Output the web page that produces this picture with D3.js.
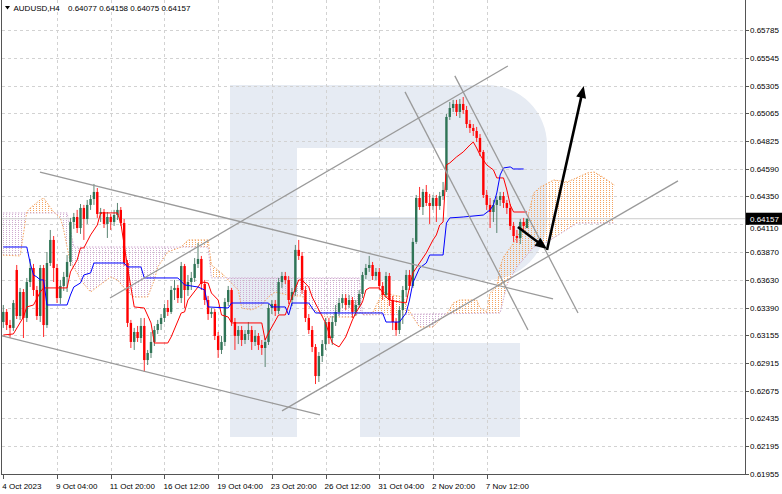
<!DOCTYPE html>
<html>
<head>
<meta charset="utf-8">
<script src="https://cdn.jsdelivr.net/npm/d3@7/dist/d3.min.js"></script>
<style>
html,body{margin:0;padding:0;background:#fff;}
svg{display:block;}
text{font-family:"Liberation Sans",Arial,sans-serif;font-size:8px;fill:#000;}
</style>
</head>
<body>
<svg id="chart" width="782" height="494"></svg>
<script>
// ---------------- data ----------------
const symbolLabel = "AUDUSD,H4";
const quoteLabels = ["0.64077", "0.64158", "0.64075", "0.64157"];
const currentPrice = 0.64157;
const xTickLabels = ["4 Oct 2023","9 Oct 04:00","11 Oct 20:00","16 Oct 12:00","19 Oct 04:00","23 Oct 20:00","26 Oct 12:00","31 Oct 04:00","2 Nov 20:00","7 Nov 12:00"];
const xTickBars = [0,16,32,48,64,80,96,112,128,144];
const yTickLabels = ["0.61955","0.62195","0.62435","0.62675","0.62915","0.63155","0.63390","0.63630","0.63870","0.64110","0.64350","0.64590","0.64825","0.65065","0.65305","0.65545","0.65785"];

const open = [
0.63266,0.63353,0.63240,0.63215,0.63715,0.63318,0.63525,0.63301,0.63611,0.63732,
0.63542,0.63318,0.63732,0.63240,0.63775,0.63974,0.63732,0.63473,0.63577,0.63655,
0.63784,0.64129,0.64172,0.64077,0.64250,0.64155,0.64276,0.64327,0.64388,0.64198,
0.64215,0.64112,0.64172,0.64129,0.64189,0.64233,0.64120,0.63775,0.63258,0.63094,
0.63180,0.63128,0.63232,0.62938,0.62999,0.63094,0.63197,0.63249,0.63301,0.63387,
0.63353,0.63542,0.63560,0.63473,0.63749,0.63542,0.63611,0.63646,0.63767,0.63810,
0.63594,0.63456,0.63335,0.63353,0.63146,0.63025,0.63094,0.63439,0.63542,0.63266,
0.63146,0.63197,0.63111,0.63163,0.63197,0.63094,0.63146,0.63068,0.63042,0.63094,
0.63387,0.63422,0.63361,0.63611,0.63663,0.63629,0.63456,0.63525,0.63888,0.63836,
0.63542,0.63301,0.63197,0.63051,0.62800,0.62973,0.63076,0.63266,0.63128,0.63266,
0.63353,0.63430,0.63473,0.63413,0.63456,0.63353,0.63413,0.63508,0.63672,0.63732,
0.63758,0.63663,0.63698,0.63577,0.63499,0.63663,0.63456,0.63266,0.63197,0.63370,
0.63542,0.63672,0.63577,0.63957,0.64336,0.64258,0.64388,0.64293,0.64267,0.64336,
0.64267,0.64353,0.64405,0.65035,0.65112,0.65147,0.65078,0.65147,0.65095,0.64974,
0.64940,0.64914,0.64854,0.64733,0.64362,0.64276,0.64215,0.64276,0.64319,0.64353,
0.64293,0.64250,0.64095,0.64008,0.63991,0.64129,0.64077];
const high = [
0.63413,0.63378,0.63284,0.63456,0.63758,0.63560,0.63551,0.63646,0.63810,0.63767,
0.63577,0.63758,0.63758,0.63870,0.64060,0.64008,0.63767,0.63629,0.63698,0.63844,
0.64164,0.64207,0.64233,0.64284,0.64276,0.64319,0.64362,0.64457,0.64422,0.64250,
0.64241,0.64215,0.64198,0.64233,0.64293,0.64258,0.64155,0.63801,0.63284,0.63215,
0.63232,0.63301,0.63301,0.63025,0.63180,0.63232,0.63284,0.63335,0.63422,0.63456,
0.63577,0.63629,0.63586,0.63784,0.63767,0.63672,0.63698,0.63818,0.63948,0.63836,
0.63629,0.63491,0.63387,0.63378,0.63180,0.63146,0.63473,0.63577,0.63560,0.63301,
0.63232,0.63232,0.63197,0.63266,0.63232,0.63197,0.63171,0.63111,0.63128,0.63422,
0.63456,0.63456,0.63646,0.63698,0.63698,0.63663,0.63560,0.63931,0.63974,0.63870,
0.63577,0.63335,0.63232,0.63076,0.63007,0.63111,0.63301,0.63301,0.63318,0.63413,
0.63473,0.63508,0.63508,0.63499,0.63482,0.63456,0.63542,0.63698,0.63767,0.63836,
0.63784,0.63732,0.63732,0.63611,0.63698,0.63689,0.63491,0.63301,0.63404,0.63577,
0.63715,0.63715,0.63991,0.64362,0.64431,0.64414,0.64448,0.64371,0.64362,0.64362,
0.64388,0.64474,0.65061,0.65164,0.65182,0.65182,0.65190,0.65207,0.65130,0.65009,
0.64974,0.64949,0.64888,0.64750,0.64405,0.64336,0.64319,0.64353,0.64388,0.64388,
0.64319,0.64284,0.64129,0.64060,0.64155,0.64164,0.64158];
const low = [
0.63215,0.63197,0.63128,0.63189,0.63292,0.63284,0.63128,0.63266,0.63568,0.63491,
0.63284,0.63266,0.63137,0.63215,0.63749,0.63611,0.63430,0.63422,0.63534,0.63525,
0.63749,0.64069,0.64034,0.64026,0.63974,0.64112,0.64233,0.64276,0.64164,0.64129,
0.64077,0.63991,0.64060,0.64095,0.64146,0.64095,0.63749,0.63223,0.63042,0.63025,
0.63094,0.63085,0.62835,0.62895,0.62956,0.63059,0.63163,0.63197,0.63266,0.63318,
0.63335,0.63456,0.63430,0.63430,0.63387,0.63491,0.63542,0.63611,0.63732,0.63542,
0.63413,0.63284,0.63301,0.63111,0.62956,0.62990,0.63059,0.63404,0.63232,0.63025,
0.63076,0.63059,0.63076,0.63111,0.63025,0.63059,0.63025,0.62982,0.62878,0.63068,
0.63335,0.63318,0.63335,0.63560,0.63594,0.63422,0.63404,0.63491,0.63801,0.63508,
0.63266,0.63163,0.63007,0.62731,0.62749,0.62921,0.63025,0.63076,0.63068,0.63232,
0.63318,0.63387,0.63370,0.63387,0.63301,0.63318,0.63387,0.63473,0.63637,0.63698,
0.63629,0.63629,0.63542,0.63456,0.63473,0.63404,0.63197,0.63146,0.63163,0.63249,
0.63482,0.63542,0.63560,0.63939,0.64233,0.64189,0.64267,0.64112,0.64233,0.64129,
0.64233,0.64319,0.64388,0.65009,0.65078,0.65043,0.65026,0.65061,0.64940,0.64897,
0.64871,0.64819,0.64698,0.64336,0.64233,0.64077,0.64129,0.64034,0.64267,0.64250,
0.64198,0.64060,0.63957,0.63948,0.63939,0.64060,0.64075];
const close = [
0.63353,0.63240,0.63215,0.63430,0.63318,0.63525,0.63301,0.63611,0.63732,0.63542,
0.63318,0.63732,0.63240,0.63775,0.63974,0.63732,0.63473,0.63577,0.63655,0.63784,
0.64129,0.64172,0.64077,0.64250,0.64155,0.64276,0.64327,0.64388,0.64198,0.64215,
0.64112,0.64172,0.64129,0.64189,0.64233,0.64120,0.63775,0.63258,0.63094,0.63180,
0.63128,0.63232,0.62938,0.62999,0.63094,0.63197,0.63249,0.63301,0.63387,0.63353,
0.63542,0.63560,0.63473,0.63749,0.63542,0.63611,0.63646,0.63767,0.63810,0.63594,
0.63456,0.63335,0.63353,0.63146,0.63025,0.63094,0.63439,0.63542,0.63266,0.63146,
0.63197,0.63111,0.63163,0.63197,0.63094,0.63146,0.63068,0.63042,0.63094,0.63387,
0.63422,0.63361,0.63611,0.63663,0.63629,0.63456,0.63525,0.63888,0.63836,0.63542,
0.63301,0.63197,0.63051,0.62800,0.62973,0.63076,0.63266,0.63128,0.63266,0.63353,
0.63430,0.63473,0.63413,0.63456,0.63353,0.63413,0.63508,0.63672,0.63732,0.63758,
0.63663,0.63698,0.63577,0.63499,0.63663,0.63456,0.63266,0.63197,0.63370,0.63542,
0.63672,0.63577,0.63957,0.64336,0.64258,0.64388,0.64293,0.64267,0.64336,0.64267,
0.64353,0.64405,0.65035,0.65112,0.65147,0.65078,0.65147,0.65095,0.64974,0.64940,
0.64914,0.64854,0.64733,0.64362,0.64276,0.64215,0.64276,0.64319,0.64353,0.64293,
0.64250,0.64095,0.64008,0.63991,0.64129,0.64095,0.64157];

// Ichimoku lines: vertices [bar index, price]
const tenkan = [[0,0.63154],[3,0.63163],[6,0.63309],[7,0.63396],[9,0.63413],[11,0.63525],[12,0.63560],[19,0.63560],[20,0.63698],[22,0.63801],[23,0.63905],[24,0.63905],[26,0.64017],[28,0.64103],[29,0.64207],[34,0.64207],[35,0.64120],[37,0.63741],[39,0.63396],[42,0.63387],[44,0.63258],[45,0.63085],[49,0.63085],[50,0.63137],[53,0.63344],[54,0.63353],[55,0.63456],[58,0.63568],[59,0.63611],[61,0.63603],[62,0.63516],[64,0.63456],[65,0.63327],[67,0.63309],[68,0.63258],[77,0.63258],[78,0.63111],[79,0.63171],[82,0.63327],[84,0.63327],[86,0.63482],[88,0.63629],[89,0.63629],[91,0.63568],[92,0.63482],[94,0.63370],[96,0.63258],[98,0.63085],[100,0.63051],[102,0.63137],[104,0.63284],[105,0.63344],[107,0.63439],[108,0.63542],[109,0.63560],[112,0.63560],[114,0.63482],[115,0.63456],[118,0.63439],[120,0.63430],[121,0.63568],[122,0.63689],[124,0.63775],[126,0.63862],[128,0.63974],[129,0.64017],[130,0.64103],[131,0.64129],[132,0.64621],[133,0.64638],[135,0.64690],[137,0.64733],[139,0.64793],[140,0.64819],[141,0.64767],[142,0.64707],[144,0.64621],[146,0.64578],[147,0.64509],[149,0.64509],[150,0.64405],[151,0.64276],[152,0.64215],[156,0.64215]];
const kijun = [[0,0.63913],[7,0.63913],[8,0.63775],[9,0.63672],[10,0.63655],[11,0.63629],[12,0.63629],[13,0.63413],[19,0.63413],[20,0.63499],[21,0.63568],[23,0.63603],[24,0.63672],[26,0.63689],[27,0.63775],[36,0.63775],[37,0.63741],[41,0.63741],[42,0.63646],[52,0.63646],[54,0.63586],[58,0.63568],[60,0.63542],[61,0.63396],[67,0.63387],[68,0.63430],[79,0.63430],[80,0.63396],[84,0.63396],[85,0.63327],[86,0.63430],[91,0.63430],[93,0.63344],[113,0.63344],[114,0.63266],[118,0.63266],[120,0.63344],[121,0.63456],[122,0.63603],[124,0.63732],[126,0.63775],[127,0.63844],[131,0.63844],[132,0.64120],[133,0.64164],[137,0.64172],[143,0.64189],[145,0.64233],[146,0.64276],[147,0.64379],[148,0.64535],[149,0.64595],[151,0.64604],[152,0.64586],[155,0.64586]];
const senkouA = [[-1,0.63844],[5,0.63836],[7,0.64215],[8,0.64250],[11,0.64319],[12,0.64336],[15,0.64215],[17,0.64164],[18,0.64060],[19,0.63913],[20,0.63775],[22,0.63689],[23,0.63629],[26,0.63525],[28,0.63568],[32,0.63655],[34,0.63629],[37,0.63525],[39,0.63482],[43,0.63482],[45,0.63629],[46,0.63741],[49,0.63870],[53,0.63913],[55,0.63974],[61,0.63974],[62,0.63758],[65,0.63689],[67,0.63629],[70,0.63542],[71,0.63387],[74,0.63370],[77,0.63413],[79,0.63482],[81,0.63525],[86,0.63491],[89,0.63491],[91,0.63396],[96,0.63309],[104,0.63309],[106,0.63344],[110,0.63344],[113,0.63525],[116,0.63499],[119,0.63482],[120,0.63413],[122,0.63309],[124,0.63223],[128,0.63223],[130,0.63284],[132,0.63327],[134,0.63430],[136,0.63456],[141,0.63456],[142,0.63387],[144,0.63353],[145,0.63516],[147,0.63568],[148,0.63741],[149,0.63827],[152,0.63948],[156,0.64146],[158,0.64379],[160,0.64431],[164,0.64491],[168,0.64474],[174,0.64552],[176,0.64560],[179,0.64509],[182,0.64448]];
const senkouB = [[-1,0.64207],[19,0.64207],[21,0.63913],[61,0.63913],[62,0.63646],[106,0.63646],[107,0.63327],[148,0.63344],[150,0.63586],[153,0.63741],[158,0.63913],[162,0.63957],[171,0.64120],[182,0.64120]];

// drawn trend lines and forecast arrows: [bar index, price]
const trendLines = [
  [[10.93,0.64560],[163.75,0.63465]],
  [[-0.39,0.63146],[94.34,0.62464]],
  [[31.78,0.63473],[150.3,0.65475]],
  [[83.02,0.62499],[200.98,0.64483]],
  [[119.66,0.65251],[156.3,0.63197]],
  [[134.5,0.65389],[171.2,0.63344]]
];
const arrows = [
  [[153.3,0.64086],[161.96,0.63896]],
  [[161.96,0.63888],[172.9,0.65302]]
];

// ---------------- drawing ----------------
const svg = d3.select("#chart");
const L = 2, R = 745, T = 0, B = 474;
const x = d3.scaleLinear().domain([0, 156]).range([3.3, 527.0]);
const y = d3.scaleLinear().domain([0.61955, 0.65785]).range([474, 30]);

svg.append("rect").attr("width",782).attr("height",494).attr("fill","#fff");
const defs = svg.append("defs");
defs.append("clipPath").attr("id","plot").append("rect")
  .attr("x",L).attr("y",T).attr("width",R-L).attr("height",B-T);
function dotPattern(id, color){
  const p = defs.append("pattern").attr("id",id).attr("patternUnits","userSpaceOnUse")
    .attr("width",3).attr("height",2);
  p.append("rect").attr("width",1).attr("height",1).attr("fill",color);
}
dotPattern("dotOrange","#f4a460");
dotPattern("dotPurple","#cfaacf");

const plot = svg.append("g").attr("clip-path","url(#plot)");

// watermark logo (decoration)
const logo = plot.append("g").attr("fill","#e6ebf3");
logo.append("rect").attr("x",230).attr("y",85).attr("width",67).attr("height",352);
logo.append("path").attr("d","M297,85 H487 A60,60 0 0 1 547,145 V220 A60,60 0 0 1 487,280 H360 V217 H447 V148 H297 Z");
logo.append("rect").attr("x",360).attr("y",343).attr("width",160).attr("height",94);

// grid
const grid = plot.append("g").attr("stroke","#d2d2d2").attr("stroke-dasharray","3,3").attr("stroke-width",1);
grid.selectAll("line.h").data(yTickLabels).join("line")
  .attr("x1",L).attr("x2",R).attr("y1",d=>Math.round(y(+d))+0.5).attr("y2",d=>Math.round(y(+d))+0.5);
grid.selectAll("line.v").data(xTickBars.slice(1)).join("line")
  .attr("y1",T).attr("y2",B).attr("x1",d=>Math.round(x(d))+0.5).attr("x2",d=>Math.round(x(d))+0.5);

// Ichimoku cloud
const pts = arr => arr.map(d => [x(d[0]), y(d[1])]);
const line = d3.line();
const Apts = pts(senkouA), Bpts = pts(senkouB);
const between = line(Apts.concat(Bpts.slice().reverse())) ;
const aboveB = line([[Bpts[0][0],-10]].concat(Bpts).concat([[Bpts[Bpts.length-1][0],-10]]));
const belowB = line([[Bpts[0][0],600]].concat(Bpts).concat([[Bpts[Bpts.length-1][0],600]]));
defs.append("clipPath").attr("id","aboveB").append("path").attr("d",aboveB);
defs.append("clipPath").attr("id","belowB").append("path").attr("d",belowB);
plot.append("g").attr("clip-path","url(#aboveB)").append("path").attr("d",between)
  .attr("fill","url(#dotOrange)").attr("fill-rule","evenodd");
plot.append("g").attr("clip-path","url(#belowB)").append("path").attr("d",between)
  .attr("fill","url(#dotPurple)").attr("fill-rule","evenodd");
plot.append("path").attr("d",line(Apts)).attr("fill","none").attr("stroke","#f4a460").attr("stroke-width",1).attr("stroke-dasharray","1.5,1.5");
plot.append("path").attr("d",line(Bpts)).attr("fill","none").attr("stroke","#cfaacf").attr("stroke-width",1).attr("stroke-dasharray","1.5,1.5");

// current price line
plot.append("line").attr("x1",L).attr("x2",R)
  .attr("y1",y(currentPrice)).attr("y2",y(currentPrice)).attr("stroke","#cccccc").attr("stroke-width",1);

// candles
const bars = d3.range(open.length).map(i => ({i, o:open[i], h:high[i], l:low[i], c:close[i]}));
const cg = plot.append("g");
cg.selectAll("line").data(bars).join("line")
  .attr("x1",d=>x(d.i)).attr("x2",d=>x(d.i))
  .attr("y1",d=>y(d.h)).attr("y2",d=>y(d.l))
  .attr("stroke",d=>d.c>=d.o ? "#5b8572" : "#ff2a2a").attr("stroke-width",1);
cg.selectAll("rect").data(bars).join("rect")
  .attr("x",d=>x(d.i)-1.2).attr("width",2.4)
  .attr("y",d=>y(Math.max(d.o,d.c)))
  .attr("height",d=>Math.max(1,Math.abs(y(d.o)-y(d.c))))
  .attr("fill",d=>d.c>=d.o ? "#2f7456" : "#ff0000");

// Tenkan / Kijun
plot.append("path").attr("d",line(pts(tenkan))).attr("fill","none").attr("stroke","#ff0000").attr("stroke-width",1);
plot.append("path").attr("d",line(pts(kijun))).attr("fill","none").attr("stroke","#0000ff").attr("stroke-width",1);

// trend lines
plot.append("g").selectAll("line").data(trendLines).join("line")
  .attr("x1",d=>x(d[0][0])).attr("y1",d=>y(d[0][1]))
  .attr("x2",d=>x(d[1][0])).attr("y2",d=>y(d[1][1]))
  .attr("stroke","#9a9a9a").attr("stroke-width",1.3);

// arrows
function arrowHead(x1,y1,x2,y2,len,wid){
  const a = Math.atan2(y2-y1,x2-x1), c=Math.cos(a), s=Math.sin(a);
  const bx = x2 - c*len, by = y2 - s*len;
  return `M${x2},${y2} L${bx - s*wid/2},${by + c*wid/2} L${bx + s*wid/2},${by - c*wid/2} Z`;
}
const ag = plot.append("g");
arrows.forEach(a => {
  const x1=x(a[0][0]), y1=y(a[0][1]), x2=x(a[1][0]), y2=y(a[1][1]);
  const len=12, ang=Math.atan2(y2-y1,x2-x1);
  ag.append("line").attr("x1",x1).attr("y1",y1)
    .attr("x2",x2-Math.cos(ang)*len*0.8).attr("y2",y2-Math.sin(ang)*len*0.8)
    .attr("stroke","#000").attr("stroke-width",2.6);
  ag.append("path").attr("d",arrowHead(x1,y1,x2,y2,len,10)).attr("fill","#000");
});

// frame / axes
svg.append("line").attr("x1",1.5).attr("x2",1.5).attr("y1",0).attr("y2",B).attr("stroke","#555");
svg.append("line").attr("x1",R+0.5).attr("x2",R+0.5).attr("y1",0).attr("y2",B+1).attr("stroke","#555");
svg.append("line").attr("x1",1).attr("x2",R+1).attr("y1",B+0.5).attr("y2",B+0.5).attr("stroke","#555");

// y axis (labels hidden behind the price tag are not drawn twice)
const ya = svg.append("g");
ya.selectAll("line").data(yTickLabels).join("line")
  .attr("x1",R+1).attr("x2",R+4).attr("y1",d=>Math.round(y(+d))+0.5).attr("y2",d=>Math.round(y(+d))+0.5).attr("stroke","#555");
ya.selectAll("text").data(yTickLabels).join("text")
  .attr("x",R+5).attr("y",d=>y(+d)+3 + (Math.abs(y(+d)-y(currentPrice))<10 ? 4 : 0)).text(d=>d).attr("fill","#222");

// current price tag
svg.append("rect").attr("x",R+1).attr("y",y(currentPrice)-6).attr("width",37).attr("height",12).attr("fill","#000");
svg.append("text").attr("x",R+5).attr("y",y(currentPrice)+3).text(quoteLabels[3]).style("fill","#fff");

// x axis
const xa = svg.append("g");
xa.selectAll("line").data(xTickBars).join("line")
  .attr("x1",d=>Math.round(x(d))+0.5).attr("x2",d=>Math.round(x(d))+0.5).attr("y1",B+1).attr("y2",B+5).attr("stroke","#555");
xa.selectAll("text").data(xTickLabels).join("text")
  .attr("x",(d,k)=>Math.max(2, x(xTickBars[k])-1)).attr("y",488.5).text(d=>d).attr("fill","#222");

// title
svg.append("path").attr("d","M5,6 L10,6 L7.5,9.5 Z").attr("fill","#000");
svg.append("text").attr("x",13.5).attr("y",10.5).text(symbolLabel);
svg.append("text").attr("x",68).attr("y",10.5).text(quoteLabels.join(" "));
</script>
</body>
</html>
